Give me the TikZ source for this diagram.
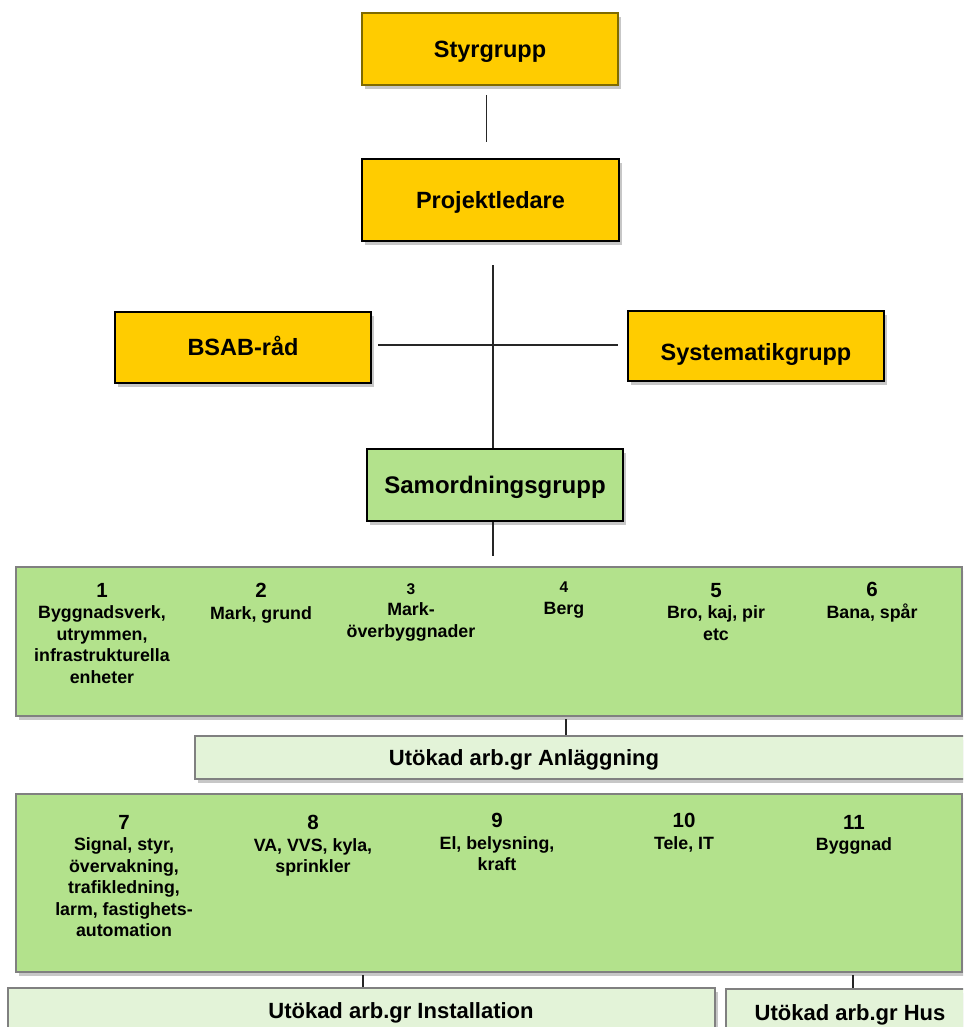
\documentclass[tikz,border=0pt]{standalone}
\usepackage{fontspec}
\setmainfont{Liberation Sans}
\usetikzlibrary{shadows,calc}
\definecolor{yel}{HTML}{FFCC00}
\definecolor{grn}{HTML}{B3E28C}
\definecolor{pale}{HTML}{E3F3D8}
\definecolor{olivebrd}{HTML}{7F6A00}
\definecolor{grybrd}{HTML}{808080}
\tikzset{
  shad/.style={drop shadow={shadow xshift=3pt,shadow yshift=-4pt,opacity=0.22,fill=black}},
  topbox/.style={rectangle, shad, fill=yel, draw=black, line width=2pt, inner sep=0pt,
    font=\fontsize{23.5}{28}\selectfont\bfseries, text height=16.8pt, text depth=0pt},
  bigbox/.style={rectangle, shad, fill=grn, draw=grybrd, line width=2pt, inner sep=0pt},
  banner/.style={rectangle, shad, fill=pale, draw=grybrd, line width=2pt, inner sep=0pt},
  bantext/.style={inner sep=0pt, font=\fontsize{22}{26}\selectfont\bfseries},
  col/.style={inner sep=0pt, align=center, anchor=north, font=\fontsize{17.8}{21.5}\selectfont\bfseries},
  conn/.style={line width=1.3pt, draw=black!85},
}
\newcommand{\bignum}[1]{{\fontsize{20.5}{21.5}\selectfont #1}}
\newcommand{\smallnum}[1]{{\fontsize{15.5}{21.5}\selectfont #1}}
\begin{document}
\begin{tikzpicture}[x=1pt,y=-1pt]
\useasboundingbox (0,0) rectangle (963,1027);
\clip (0,0) rectangle (963,1027);

% top hierarchy
\node[topbox, draw=olivebrd, line width=1.5pt, minimum width=256pt, minimum height=72pt] (styr) at (490,49) {Styrgrupp};
\node[topbox, minimum width=257pt, minimum height=82pt] (proj) at (490.5,200) {Projektledare};
\node[topbox, minimum width=256pt, minimum height=71pt] (bsab) at (243,347.5) {BSAB-råd};
\node[topbox, minimum width=256pt, minimum height=70pt, text height=28pt] (syst) at (756,346) {Systematikgrupp};
\node[topbox, fill=grn, minimum width=256pt, minimum height=72pt, font=\fontsize{24}{28}\selectfont\bfseries, text height=17.2pt] (samord) at (495,485) {Samordningsgrupp};

% big group boxes
\node[bigbox, minimum width=946pt, minimum height=149pt] (box1) at (489,641.5) {};
\node[banner, minimum width=785pt, minimum height=43pt] (anl) at (587.5,757.5) {};
\node[bigbox, minimum width=946pt, minimum height=178pt] (box2) at (489,883) {};
\node[banner, minimum width=707pt, minimum height=57pt] (inst) at (361.5,1016.5) {};
\node[banner, minimum width=248pt, minimum height=56pt] (hus) at (850,1017) {};

% banner texts
\node[bantext, anchor=base] (anltxt) at (524,765) {Utökad arb.gr Anläggning};
\node[bantext, anchor=base] (insttxt) at (401,1018) {Utökad arb.gr Installation};
\node[bantext, anchor=base] (hustxt) at (850,1020) {Utökad arb.gr Hus};

% columns in box 1
\node[col] (c1) at (102,583) {\bignum{1}\\Byggnadsverk,\\utrymmen,\\infrastrukturella\\enheter};
\node[col] (c2) at (261,583) {\bignum{2}\\Mark, grund};
\node[col] (c3) at (411,583) {\smallnum{3}\\Mark-\\överbyggnader};
\node[col] (c4) at (564,582) {\smallnum{4}\\Berg};
\node[col] (c5) at (716,583) {\bignum{5}\\Bro, kaj, pir\\etc};
\node[col] (c6) at (872,582) {\bignum{6}\\Bana, spår};

% columns in box 2
\node[col] (c7) at (124,815) {\bignum{7}\\Signal, styr,\\övervakning,\\trafikledning,\\larm, fastighets-\\automation};
\node[col] (c8) at (313,815) {\bignum{8}\\VA, VVS, kyla,\\sprinkler};
\node[col] (c9) at (497,813) {\bignum{9}\\El, belysning,\\kraft};
\node[col] (c10) at (684,813) {\bignum{10}\\Tele, IT};
\node[col] (c11) at (854,815) {\bignum{11}\\Byggnad};

% connector coordinates
\coordinate (s1) at (486.7,95);
\coordinate (s2) at (486.7,142);
\coordinate (j1) at (493,265);
\coordinate (hl) at (378,345);
\coordinate (hr) at (618,345);
\coordinate (j2) at (493,556);
\coordinate (a1) at (566,719);
\coordinate (i1) at (363,975);
\coordinate (u1) at (853,975);

% connectors
\draw[conn] (s1) -- (s2);
\draw[conn] (j1) -- (j1 |- samord.north);
\draw[conn] (hl) -- (hr);
\draw[conn] (j1 |- samord.south) -- (j2);
\draw[conn] (a1) -- (a1 |- anl.north);
\draw[conn] (i1) -- (i1 |- inst.north);
\draw[conn] (u1) -- (u1 |- hus.north);
\end{tikzpicture}
\end{document}
